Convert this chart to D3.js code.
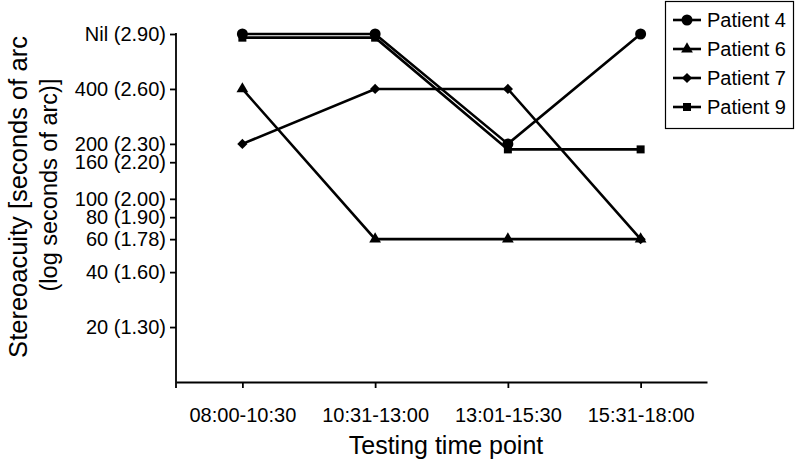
<!DOCTYPE html>
<html><head><meta charset="utf-8">
<script src="https://cdn.jsdelivr.net/npm/d3@7"></script>
<style>body{margin:0;background:#fff}svg{display:block}text{font-family:"Liberation Sans",Arial,Helvetica,sans-serif;fill:#000}</style>
</head><body>
<svg id="c" width="800" height="467"></svg>
<script>
const categories = ["08:00-10:30","10:31-13:00","13:01-15:30","15:31-18:00"];
const yTickValues = [2.90, 2.60, 2.30, 2.20, 2.00, 1.90, 1.78, 1.60, 1.30];
const yTickLabels = ["Nil (2.90)","400 (2.60)","200 (2.30)","160 (2.20)","100 (2.00)","80 (1.90)","60 (1.78)","40 (1.60)","20 (1.30)"];
const patient4 = [2.90, 2.90, 2.30, 2.90];
const patient6 = [2.60, 1.78, 1.78, 1.78];
const patient7 = [2.30, 2.60, 2.60, 1.78];
const patient9 = [2.88, 2.88, 2.27, 2.27];
const seriesNames = ["Patient 4","Patient 6","Patient 7","Patient 9"];

const series = [
  {name: seriesNames[0], values: patient4, sym: d3.symbolCircle, size: 95, rot: 0},
  {name: seriesNames[1], values: patient6, sym: d3.symbolTriangle, size: 60, rot: 0},
  {name: seriesNames[2], values: patient7, sym: d3.symbolSquare, size: 52, rot: 45},
  {name: seriesNames[3], values: patient9, sym: d3.symbolSquare, size: 64, rot: 0}
];

const svg = d3.select("#c");
const x = d3.scalePoint().domain(categories).range([176, 707]).padding(0.5);
const y = d3.scaleLinear().domain([1.0, 2.9]).range([382, 34]);

// Y axis
const yAxis = svg.append("g").attr("transform","translate(176,0)")
  .call(d3.axisLeft(y).tickValues(yTickValues).tickFormat((d,i)=>yTickLabels[i]).tickSize(6).tickSizeOuter(0).tickPadding(4));
yAxis.select(".domain").remove();
yAxis.selectAll("line").attr("stroke","#000").attr("stroke-width",1.8);
yAxis.selectAll("text").attr("font-size",20).attr("font-family","Liberation Sans, Arial, sans-serif");
svg.append("line").attr("x1",176).attr("x2",176).attr("y1",y(2.9)-1).attr("y2",388).attr("stroke","#000").attr("stroke-width",1.8);

// X axis
const xAxis = svg.append("g").attr("transform","translate(0,382)")
  .call(d3.axisBottom(x).tickSize(6).tickSizeOuter(0).tickPadding(20));
xAxis.select(".domain").attr("stroke","#000").attr("stroke-width",1.8);
xAxis.selectAll("line").attr("stroke","#000").attr("stroke-width",1.8);
xAxis.selectAll("text").attr("font-size",20).attr("font-family","Liberation Sans, Arial, sans-serif");

// Axis titles
svg.append("text").attr("transform","translate(446,454)").attr("text-anchor","middle").attr("font-size",25).text("Testing time point");
svg.append("text").attr("transform","translate(27,197) rotate(-90)").attr("text-anchor","middle").attr("font-size",25.5).text("Stereoacuity [seconds of arc");
svg.append("text").attr("transform","translate(57,185) rotate(-90)").attr("text-anchor","middle").attr("font-size",23.5).text("(log seconds of arc)]");

// Lines
const line = d3.line().x((d,i)=>x(categories[i])).y(d=>y(d));
series.forEach(s=>{
  svg.append("path").attr("d", line(s.values)).attr("fill","none").attr("stroke","#000").attr("stroke-width",2.6).attr("stroke-linejoin","miter");
});
series.forEach(s=>{
  svg.append("g").selectAll("path").data(s.values).join("path")
    .attr("d", d3.symbol().type(s.sym).size(s.size))
    .attr("transform",(d,i)=>`translate(${x(categories[i])},${y(d)}) rotate(${s.rot})`)
    .attr("fill","#000");
});

// Legend
const lg = svg.append("g");
lg.append("rect").attr("x",665.5).attr("y",1.5).attr("width",128).attr("height",127).attr("fill","#fff").attr("stroke","#000").attr("stroke-width",1.2);
series.forEach((s,i)=>{
  const yy = 20 + i*29;
  lg.append("line").attr("x1",673).attr("x2",701).attr("y1",yy).attr("y2",yy).attr("stroke","#000").attr("stroke-width",2.6);
  lg.append("path").attr("d", d3.symbol().type(s.sym).size(s.size)).attr("transform",`translate(687,${yy}) rotate(${s.rot})`).attr("fill","#000");
  lg.append("text").attr("x",707).attr("y",yy+7).attr("font-size",20).text(s.name);
});
</script>
</body></html>
